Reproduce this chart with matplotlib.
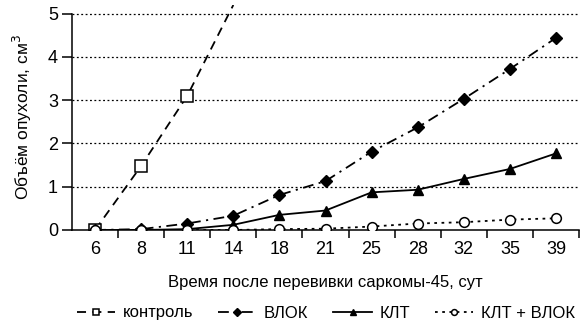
import matplotlib
matplotlib.use("Agg")
import matplotlib.pyplot as plt
from matplotlib import font_manager

# Day labels (categorical, evenly spaced)
days = ["6", "8", "11", "14", "18", "21", "25", "28", "32", "35", "39"]

# Tumour volume, cm^3
control = [0.0, 1.48, 3.10, 5.20]
vlok = [0.0, 0.02, 0.15, 0.33, 0.81, 1.13, 1.81, 2.37, 3.03, 3.72, 4.44]
klt = [0.0, 0.0, 0.02, 0.12, 0.35, 0.45, 0.87, 0.93, 1.18, 1.41, 1.77]
klt_vlok = [0.0, 0.0, 0.0, 0.0, 0.02, 0.03, 0.08, 0.15, 0.18, 0.24, 0.27]

series_labels = ["контроль", "ВЛОК", "КЛТ", "КЛТ + ВЛОК"]

installed = {f.name for f in font_manager.fontManager.ttflist}
family = "Liberation Sans Narrow" if "Liberation Sans Narrow" in installed else "Liberation Sans"
plt.rcParams["font.family"] = [family, "DejaVu Sans"]
plt.rcParams["font.size"] = 13

fig = plt.figure(figsize=(5.87, 3.35), dpi=100)
ax = fig.add_axes([72 / 587, 1 - 230 / 335, (579 - 72) / 587, (230 - 5) / 335])

x = list(range(len(days)))
lw = 1.3

ax.plot(x[:len(control)], control, color="black", lw=lw, dashes=(5, 3.5),
        marker="s", ms=8, mfc="white", mec="black", mew=1.1,
        markevery=[0, 1, 2], label=series_labels[0], zorder=4)
ax.plot(x, vlok, color="black", lw=lw, dashes=(6, 3, 1.2, 3),
        marker="D", ms=6.5, mfc="black", mec="black",
        label=series_labels[1], zorder=4)
ax.plot(x, klt, color="black", lw=lw, linestyle="-",
        marker="^", ms=7.5, mfc="black", mec="black",
        label=series_labels[2], zorder=4)
ax.plot(x, klt_vlok, color="black", lw=lw, dashes=(1.5, 2.5),
        marker="o", ms=7, mfc="white", mec="black", mew=1.1,
        label=series_labels[3], zorder=5)

ax.set_xlim(-0.5, len(days) - 0.5)
ax.set_ylim(0, 5.2)

ax.set_xticks(x)
ax.set_xticklabels(days, fontsize=13)
ax.set_xticks([i + 0.5 for i in range(len(days))], minor=True)
ax.tick_params(axis="x", which="major", length=0, pad=8)
ax.tick_params(axis="x", which="minor", length=6, width=1.1, direction="out")
ax.set_yticks([0, 1, 2, 3, 4, 5])
ax.tick_params(axis="y", length=7, width=1.1, direction="out", pad=3, labelsize=13)

for v in [1, 2, 3, 4, 5]:
    ax.axhline(v, color="black", lw=0.9, dashes=(1.5, 2), zorder=1)

for s in ["top", "right"]:
    ax.spines[s].set_visible(False)
ax.spines["left"].set_bounds(0, 5)
ax.spines["left"].set_linewidth(1.1)
ax.spines["bottom"].set_linewidth(1.1)

ax.set_ylabel("Объём опухоли, см$^3$", fontsize=12.5, labelpad=10)
ax.set_xlabel("Время после перевивки саркомы-45, сут", fontsize=12, labelpad=12)

handles, labels = ax.get_legend_handles_labels()
fig.legend(handles, labels, loc="center", bbox_to_anchor=(0.555, 1 - 313 / 335),
           ncol=4, frameon=False, handlelength=2.3, handletextpad=0.45,
           columnspacing=1.5, markerscale=0.6, borderaxespad=0, fontsize=12)

fig.savefig("out.png", dpi=100)
